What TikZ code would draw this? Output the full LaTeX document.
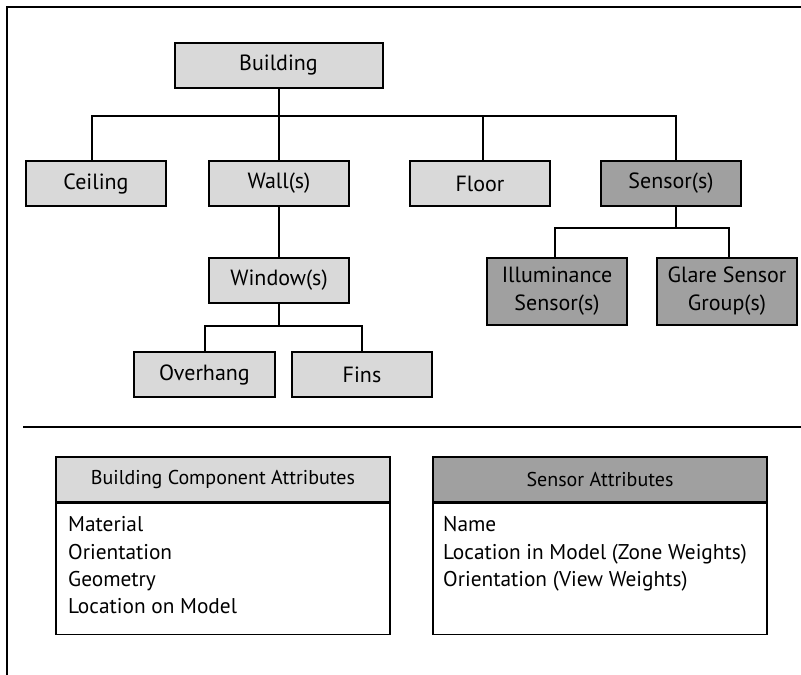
\documentclass[tikz,border=0pt]{standalone}
\usepackage{fontspec}
\setmainfont{PT Sans}
\usetikzlibrary{positioning}
\definecolor{compfill}{HTML}{D9D9D9}
\definecolor{sensfill}{HTML}{A0A0A0}
\begin{document}
\begin{tikzpicture}[x=0.75pt,y=-0.75pt,
  line width=1.5pt,
  box/.style={draw=black, line width=1.5pt, minimum height=45*0.75pt, inner sep=0pt,
    font=\fontsize{16.5}{21}\selectfont, align=center},
  comp/.style={box, fill=compfill},
  sens/.style={box, fill=sensfill},
  link/.style={draw=black, line width=1.5pt},
  headbox/.style={draw=black, line width=1.2pt, minimum width=334*0.75pt, minimum height=45*0.75pt,
    inner sep=0pt, font=\fontsize{15}{18}\selectfont},
  bodybox/.style={draw=black, line width=1.2pt, anchor=north, minimum width=334*0.75pt,
    minimum height=131*0.75pt, inner sep=0pt},
  listtext/.style={anchor=north west, inner sep=0pt, align=left,
    font=\fontsize{16}{20.6}\selectfont}
]
\useasboundingbox (0,0) rectangle (801,675);

% frame edges and divider
\coordinate (frameTL) at (7,7);
\coordinate (frameTR) at (801,7);
\coordinate (frameBL) at (7,675);
\draw[line width=1.6pt] (frameTR) -- (frameTL) -- (frameBL);
\coordinate (divL) at (23,427);
\coordinate (divR) at (801,427);
\draw[line width=1.3pt] (divL) -- (divR);

% hierarchy boxes
\node[comp, minimum width=208*0.75pt] (building) at (278.5,65.5) {Building};
\node[comp, minimum width=140*0.75pt] (ceiling) at (96,183.5) {Ceiling};
\node[comp, minimum width=140*0.75pt] (wall) at (279,183.5) {Wall(s)};
\node[comp, minimum width=140*0.75pt] (floor) at (480,183.5) {Floor};
\node[sens, minimum width=140*0.75pt] (sensor) at (671,183.5) {Sensor(s)};
\node[comp, minimum width=140*0.75pt] (window) at (279,280.5) {Window(s)};
\node[comp, minimum width=141*0.75pt] (overhang) at (204.5,374.5) {Overhang};
\node[comp, minimum width=140*0.75pt] (fins) at (362,374.5) {Fins};
\node[sens, minimum width=140*0.75pt, minimum height=67*0.75pt] (illum) at (557,291.5) {Illuminance\\Sensor(s)};
\node[sens, minimum width=140*0.75pt, minimum height=67*0.75pt] (glare) at (727,291.5) {Glare Sensor\\Group(s)};

% tree connectors
\coordinate (busMain) at (0,116);
\coordinate (busWin) at (0,326);
\coordinate (busSens) at (0,228);
\draw[link] (building.south -| wall.north) -- (wall.north);
\draw[link] ([xshift=-3pt]ceiling.north) |- (busMain -| wall.north)
            -| ([xshift=3.75pt]sensor.north);
\draw[link] ([xshift=2.25pt]floor.north) -- ([xshift=2.25pt]floor.north |- busMain);
\draw[link] (wall.south) -- (window.north);
\draw[link] (window.south) -- (window.south |- busWin);
\draw[link] (overhang.north) |- (busWin -| window.south) -| (fins.north);
\draw[link] ([xshift=3.75pt]sensor.south) -- ([xshift=3.75pt]sensor.south |- busSens);
\draw[link] ([xshift=-1.5pt]illum.north) |- (busSens -| sensor.south) -| ([xshift=1.5pt]glare.north);

% attribute tables
\node[headbox, fill=compfill] (compHead) at (223,479.5) {Building Component Attributes};
\node[bodybox] (compBody) at (compHead.south) {};
\node[listtext] (compList) at ([xshift=9pt,yshift=-9.5pt]compBody.north west)
  {Material\\Orientation\\Geometry\\Location on Model};

\node[headbox, fill=sensfill] (sensHead) at (600,479.5) {Sensor Attributes};
\node[bodybox] (sensBody) at (sensHead.south) {};
\node[listtext] (sensList) at ([xshift=7.5pt,yshift=-9.5pt]sensBody.north west)
  {Name\\Location in Model (Zone Weights)\\Orientation (View Weights)};
\end{tikzpicture}
\end{document}
